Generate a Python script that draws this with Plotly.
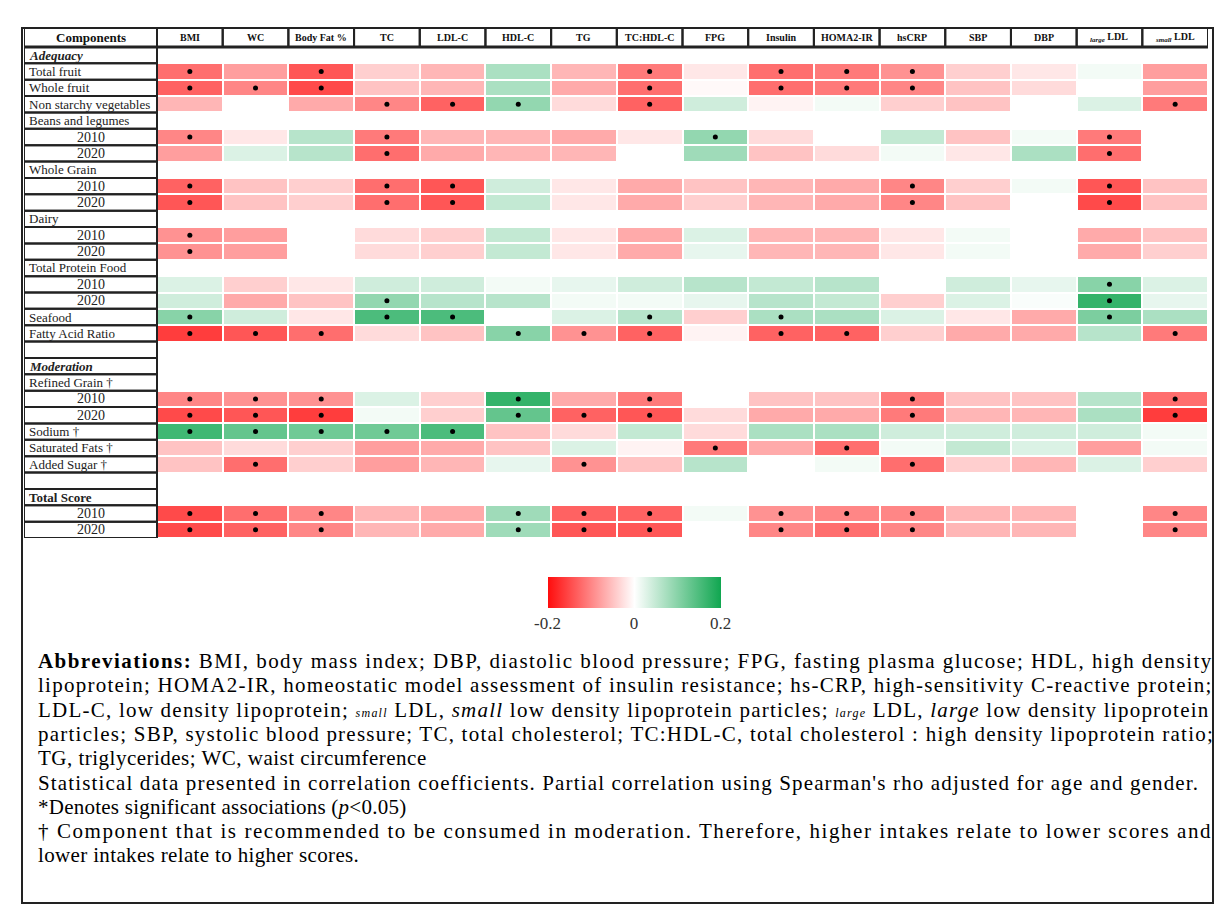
import re
import plotly.graph_objects as go

N = None

columns = ["BMI", "WC", "Body Fat %", "TC", "LDL-C", "HDL-C", "TG", "TC:HDL-C", "FPG",
           "Insulin", "HOMA2-IR", "hsCRP", "SBP", "DBP",
           "<sub><i>large</i></sub> LDL", "<sub><i>small</i></sub> LDL"]

row_labels = ["Adequacy", "Total fruit", "Whole fruit", "Non starchy vegetables", "Beans and legumes",
              "2010", "2020", "Whole Grain", "2010", "2020", "Dairy", "2010", "2020",
              "Total Protein Food", "2010", "2020", "Seafood", "Fatty Acid Ratio", "",
              "Moderation", "Refined Grain †", "2010", "2020", "Sodium †", "Saturated Fats †",
              "Added Sugar †", "", "Total Score", "2010", "2020"]
row_kinds = ["section", "plain", "plain", "plain", "plain", "year", "year", "plain", "year", "year",
             "plain", "year", "year", "plain", "year", "year", "plain", "plain", "blank",
             "section", "plain", "year", "year", "plain", "plain", "plain", "blank", "bold",
             "year", "year"]

# correlation coefficients (Spearman's rho), columns in the order of `columns`
total_fruit = [-0.12, -0.08, -0.14, -0.04, -0.06, 0.07, -0.06, -0.11, -0.02, -0.12, -0.11, -0.09, -0.04, -0.02, 0.01, -0.08]
whole_fruit = [-0.13, -0.10, -0.15, -0.05, -0.06, 0.07, -0.07, -0.12, -0.005, -0.12, -0.11, -0.10, -0.05, -0.03, 0.0, -0.08]
non_starchy = [-0.06, N, -0.07, -0.10, -0.13, 0.09, -0.03, -0.13, 0.04, -0.01, 0.01, -0.04, -0.05, N, 0.03, -0.11]
beans_2010 = [-0.10, -0.02, 0.06, -0.11, -0.06, -0.06, -0.07, -0.02, 0.09, -0.03, N, 0.05, -0.05, 0.01, -0.11, N]
beans_2020 = [-0.08, 0.03, 0.06, -0.12, -0.07, -0.06, -0.06, N, 0.08, -0.05, -0.03, 0.01, -0.02, 0.07, -0.12, N]
wg_2010 = [-0.13, -0.05, -0.04, -0.12, -0.14, 0.04, -0.02, -0.07, -0.05, -0.06, -0.07, -0.10, -0.04, 0.01, -0.14, -0.05]
wg_2020 = [-0.14, -0.05, -0.04, -0.12, -0.14, 0.05, -0.02, -0.07, -0.04, -0.06, -0.07, -0.10, -0.05, N, -0.15, -0.05]
dairy_2010 = [-0.09, -0.08, N, -0.03, -0.04, 0.05, -0.02, -0.07, 0.03, -0.06, -0.06, -0.02, 0.01, N, -0.07, -0.05]
dairy_2020 = [-0.09, -0.08, N, -0.03, -0.04, 0.05, -0.02, -0.07, 0.02, -0.06, -0.06, -0.02, 0.01, N, -0.07, -0.04]
protein_2010 = [0.03, -0.04, -0.02, 0.04, 0.04, 0.01, 0.02, 0.04, 0.06, 0.05, 0.06, N, 0.04, 0.02, 0.10, 0.03]
protein_2020 = [0.04, -0.07, -0.05, 0.09, 0.06, 0.06, 0.01, 0.01, 0.02, 0.06, 0.05, -0.04, 0.03, 0.005, 0.17, 0.02]
seafood = [0.10, 0.04, -0.02, 0.15, 0.15, N, 0.03, 0.06, -0.04, 0.07, 0.07, 0.03, -0.02, -0.07, 0.11, 0.07]
fatty_acid = [-0.16, -0.14, -0.12, -0.03, -0.05, 0.10, -0.09, -0.13, -0.01, -0.13, -0.13, -0.04, -0.07, -0.07, 0.06, -0.11]
refined_2010 = [-0.10, -0.09, -0.09, 0.03, -0.04, 0.17, -0.07, -0.11, N, -0.05, -0.05, -0.11, -0.05, -0.05, 0.06, -0.12]
refined_2020 = [-0.15, -0.14, -0.16, 0.01, -0.04, 0.13, -0.13, -0.14, -0.03, -0.07, -0.07, -0.11, -0.06, -0.06, 0.07, -0.16]
sodium = [0.16, 0.13, 0.12, 0.12, 0.15, -0.05, -0.03, 0.05, -0.03, 0.07, 0.07, 0.04, 0.04, 0.04, 0.04, 0.01]
sat_fats = [-0.05, -0.03, -0.04, -0.08, -0.07, -0.05, 0.03, -0.01, -0.11, -0.07, -0.12, 0.01, 0.05, 0.03, -0.08, 0.01]
added_sugar = [-0.05, -0.12, -0.04, -0.08, -0.06, 0.02, -0.09, -0.05, 0.06, N, 0.01, -0.12, -0.04, -0.06, 0.03, -0.04]
ts_2010 = [-0.15, -0.12, -0.10, -0.06, -0.07, 0.08, -0.13, -0.13, 0.01, -0.09, -0.10, -0.10, -0.06, -0.06, N, -0.10]
ts_2020 = [-0.15, -0.13, -0.10, -0.06, -0.07, 0.08, -0.14, -0.14, N, -0.10, -0.12, -0.10, -0.06, -0.06, N, -0.10]

# significant associations (p<0.05): column indices
total_fruit_sig = [0, 2, 7, 9, 10, 11]
whole_fruit_sig = [0, 1, 2, 7, 9, 10, 11]
non_starchy_sig = [3, 4, 5, 7, 15]
beans_2010_sig = [0, 3, 8, 14]
beans_2020_sig = [3, 14]
wg_2010_sig = [0, 3, 4, 11, 14]
wg_2020_sig = [0, 3, 4, 11, 14]
dairy_2010_sig = [0]
dairy_2020_sig = [0]
protein_2010_sig = [14]
protein_2020_sig = [3, 14]
seafood_sig = [0, 3, 4, 7, 9, 14]
fatty_acid_sig = [0, 1, 2, 5, 6, 7, 9, 10, 15]
refined_2010_sig = [0, 1, 2, 5, 7, 11, 15]
refined_2020_sig = [0, 1, 2, 5, 6, 7, 11, 15]
sodium_sig = [0, 1, 2, 3, 4]
sat_fats_sig = [8, 10]
added_sugar_sig = [1, 6, 11]
ts_2010_sig = [0, 1, 2, 5, 6, 7, 9, 10, 11, 15]
ts_2020_sig = [0, 1, 2, 5, 6, 7, 9, 10, 11, 15]

values_by_row = [N, total_fruit, whole_fruit, non_starchy, N, beans_2010, beans_2020, N, wg_2010, wg_2020,
                 N, dairy_2010, dairy_2020, N, protein_2010, protein_2020, seafood, fatty_acid, N,
                 N, N, refined_2010, refined_2020, sodium, sat_fats, added_sugar, N, N, ts_2010, ts_2020]
sig_by_row = [[], total_fruit_sig, whole_fruit_sig, non_starchy_sig, [], beans_2010_sig, beans_2020_sig, [],
              wg_2010_sig, wg_2020_sig, [], dairy_2010_sig, dairy_2020_sig, [], protein_2010_sig,
              protein_2020_sig, seafood_sig, fatty_acid_sig, [], [], [], refined_2010_sig, refined_2020_sig,
              sodium_sig, sat_fats_sig, added_sugar_sig, [], [], ts_2010_sig, ts_2020_sig]

notes = [
    "<b>Abbreviations:</b> BMI, body mass index; DBP, diastolic blood pressure; FPG, fasting plasma glucose; HDL, high density",
    "lipoprotein; HOMA2-IR, homeostatic model assessment of insulin resistance; hs-CRP, high-sensitivity C-reactive protein;",
    "LDL-C, low density lipoprotein; <span style='font-size:12px'><i>small</i></span> LDL, <i>small</i> low density lipoprotein particles; <span style='font-size:12px'><i>large</i></span> LDL, <i>large</i> low density lipoprotein",
    "particles; SBP, systolic blood pressure; TC, total cholesterol; TC:HDL-C, total cholesterol : high density lipoprotein ratio;",
    "TG, triglycerides; WC, waist circumference",
    "Statistical data presented in correlation coefficients. Partial correlation using Spearman's rho adjusted for age and gender.",
    "*Denotes significant associations (<i>p</i><0.05)",
    "† Component that is recommended to be consumed in moderation. Therefore, higher intakes relate to lower scores and",
    "lower intakes relate to higher scores.",
]
# layout of the notes: natural width at 18px (measured) and right edge of each line in the reference
note_nat18 = [865, 879, 876, 875, 315, 872, 312, 853, 263]
note_right = [1210, 1210, 1210, 1210, 424, 1197, 410, 1210, 356]

# ---------------- layout geometry ----------------
W, H = 1226, 908
PL, PR, PT, PB = 24, 1208, 28, 538          # plot area in pixels
ncol, nrow = len(columns), len(row_labels)
colw = (PR - 157) / ncol
rowh = (PB - PT - 19) / nrow
LABEL_W = (157 - PL) / colw
HEAD_H = 19 / rowh
x_lo, x_hi = -0.5 - LABEL_W, ncol - 0.5
y_top, y_bot = -0.5 - HEAD_H, nrow - 0.5


def px_x(px):
    return (px - PL) / (PR - PL)


def px_y(py):
    return (PB - py) / (PB - PT)


SERIF = "Liberation Serif, Times New Roman, serif"

z = [row if row is not None else [None] * ncol for row in values_by_row]

sx, sy = [], []
for r, sig in enumerate(sig_by_row):
    for c in sig:
        sx.append(c)
        sy.append(r)

colorscale = [[0.0, "#ff0d0d"], [0.5, "#ffffff"], [1.0, "#10a650"]]

fig = go.Figure()
fig.add_trace(go.Heatmap(
    z=z, x=list(range(ncol)), y=list(range(nrow)),
    zmin=-0.2, zmax=0.2, colorscale=colorscale,
    xgap=2, ygap=2, hoverinfo="skip",
    colorbar=dict(orientation="h", xref="container", yref="container",
                  x=656.5 / W, xanchor="center", y=1 - 577 / H, yanchor="top",
                  len=173, lenmode="pixels", thickness=31, thicknessmode="pixels",
                  outlinewidth=0, tickvals=[-0.2, 0, 0.2], ticktext=["-0.2", "0", "0.2"],
                  ticks="", xpad=0, ypad=0,
                  tickfont=dict(family=SERIF, size=17, color="#333333")),
))
fig.add_trace(go.Scatter(x=sx, y=sy, mode="markers", hoverinfo="skip", showlegend=False,
                         marker=dict(color="black", size=5)))

shapes = []
annotations = []
LINE = dict(color="#222222", width=2)

# header boxes
shapes.append(dict(type="rect", xref="x", yref="y", x0=x_lo, x1=-0.5, y0=y_top, y1=-0.5, line=LINE))
annotations.append(dict(xref="x", yref="y", x=(x_lo - 0.5) / 2, y=(y_top - 0.5) / 2, text="<b>Components</b>",
                        showarrow=False, font=dict(family=SERIF, size=13, color="#111")))
for c, name in enumerate(columns):
    shapes.append(dict(type="rect", xref="x", yref="y", x0=c - 0.5, x1=c + 0.5, y0=y_top, y1=-0.5, line=LINE))
    annotations.append(dict(xref="x", yref="y", x=c, y=(y_top - 0.5) / 2, text="<b>" + name + "</b>",
                            showarrow=False, font=dict(family=SERIF, size=10, color="#111")))

# row label boxes
for r, (lab, kind) in enumerate(zip(row_labels, row_kinds)):
    shapes.append(dict(type="rect", xref="x", yref="y", x0=x_lo, x1=-0.5, y0=r - 0.5, y1=r + 0.5, line=LINE))
    if kind == "blank":
        continue
    if kind == "year":
        annotations.append(dict(xref="x", yref="y", x=(x_lo - 0.5) / 2, y=r, text=lab, showarrow=False,
                                font=dict(family=SERIF, size=14, color="#222")))
        continue
    txt = lab
    if kind == "section":
        txt = "<b><i>" + lab + "</i></b>"
    elif kind == "bold":
        txt = "<b>" + lab + "</b>"
    annotations.append(dict(xref="x", yref="y", x=x_lo + 0.045, y=r, text=txt, xanchor="left", showarrow=False,
                            font=dict(family=SERIF, size=13, color="#222")))

# table frame lines
shapes.append(dict(type="line", xref="x", yref="y", x0=x_lo, x1=x_hi, y0=-0.5, y1=-0.5,
                   line=dict(color="#222", width=3)))
shapes.append(dict(type="line", xref="x", yref="y", x0=x_lo, x1=x_hi, y0=y_top, y1=y_top, line=LINE))
shapes.append(dict(type="line", xref="x", yref="y", x0=x_hi + 0.03, x1=x_hi + 0.03, y0=y_top, y1=y_bot + 0.1,
                   line=LINE))
shapes.append(dict(type="line", xref="x", yref="y", x0=x_lo, x1=x_hi + 0.03, y0=y_bot + 0.1, y1=y_bot + 0.1,
                   line=LINE))
# outer frame of the whole figure
shapes.append(dict(type="rect", xref="paper", yref="paper", x0=px_x(22), x1=px_x(1213), y0=px_y(28), y1=px_y(903),
                   line=dict(color="#222", width=2)))

# notes below (stretched with letter spacing to match the reference line lengths)
NOTE_SIZE = 21
for i, line in enumerate(notes):
    nchar = len(re.sub("<[^>]+>", "", line))
    nat = note_nat18[i] * NOTE_SIZE / 18
    ls = max(0.0, (note_right[i] - 36 - nat) / nchar)
    txt = "<span style='letter-spacing:%.2fpx'>%s</span>" % (ls, line)
    annotations.append(dict(xref="paper", yref="paper", x=px_x(36), y=px_y(661 + i * 24.3), text=txt,
                            xanchor="left", yanchor="middle", showarrow=False, align="left",
                            font=dict(family=SERIF, size=NOTE_SIZE, color="#000")))

fig.update_layout(
    width=W, height=H, margin=dict(l=PL, r=W - PR, t=PT, b=H - PB, pad=0),
    paper_bgcolor="white", plot_bgcolor="white",
    xaxis=dict(range=[x_lo, x_hi], visible=False, fixedrange=True),
    yaxis=dict(range=[y_bot, y_top], visible=False, fixedrange=True),
    shapes=shapes, annotations=annotations, showlegend=False,
)

fig.write_html("out.html", config={"displayModeBar": False},
               post_script="document.body.style.margin='0';document.body.style.overflow='hidden';")
